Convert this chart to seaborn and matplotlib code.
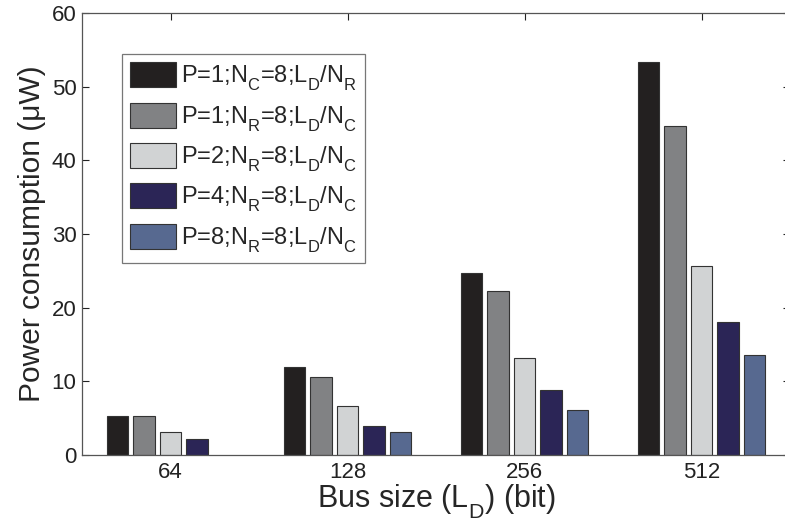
import matplotlib
matplotlib.use("Agg")
import matplotlib.pyplot as plt
import seaborn as sns
import numpy as np
import pandas as pd

# Bus sizes on the x axis
bus_sizes = ["64", "128", "256", "512"]

# Power consumption (uW) per configuration
p1_nc8_ld_nr = [5.3, 11.9, 24.7, 53.4]
p1_nr8_ld_nc = [5.3, 10.6, 22.3, 44.6]
p2_nr8_ld_nc = [3.1, 6.6, 13.1, 25.6]
p4_nr8_ld_nc = [2.2, 4.0, 8.8, 18.1]
p8_nr8_ld_nc = [np.nan, 3.1, 6.1, 13.6]

series_labels = [
    r"P=1;N$_\mathregular{C}$=8;L$_\mathregular{D}$/N$_\mathregular{R}$",
    r"P=1;N$_\mathregular{R}$=8;L$_\mathregular{D}$/N$_\mathregular{C}$",
    r"P=2;N$_\mathregular{R}$=8;L$_\mathregular{D}$/N$_\mathregular{C}$",
    r"P=4;N$_\mathregular{R}$=8;L$_\mathregular{D}$/N$_\mathregular{C}$",
    r"P=8;N$_\mathregular{R}$=8;L$_\mathregular{D}$/N$_\mathregular{C}$",
]
series_values = [p1_nc8_ld_nr, p1_nr8_ld_nc, p2_nr8_ld_nc, p4_nr8_ld_nc, p8_nr8_ld_nc]
colors = ["#231f20", "#808285", "#d1d3d4", "#251d5e", "#4e6699"]

rows = []
for lab, vals in zip(series_labels, series_values):
    for b, v in zip(bus_sizes, vals):
        rows.append({"bus": b, "config": lab, "power": v})
df = pd.DataFrame(rows)

sns.set_style("white")
plt.rcParams["font.family"] = ["Liberation Sans", "DejaVu Sans"]
plt.rcParams["mathtext.fontset"] = "custom"
plt.rcParams["mathtext.rm"] = "Liberation Sans"
plt.rcParams["mathtext.it"] = "Liberation Sans"

# Deeper subscripts, as in classic MATLAB-style labels
try:
    from matplotlib import _mathtext
    _mathtext.FontConstantsBase.sub1 = 0.65
    _mathtext.FontConstantsBase.sub2 = 0.8
except Exception:
    pass

fig = plt.figure(figsize=(7.85, 5.29), dpi=100)
ax = fig.add_axes([82 / 785, 74 / 529, 708 / 785, 442 / 529])

sns.barplot(data=df, x="bus", y="power", hue="config", order=bus_sizes,
            hue_order=series_labels, palette=colors, width=0.75, gap=0.2,
            errorbar=None, edgecolor="#333333", linewidth=0.8, ax=ax)

ax.set_xlim(-0.5, 3.5)
ax.set_ylim(0, 60)
ax.set_yticks(range(0, 61, 10))
ax.tick_params(axis="both", direction="in", labelsize=16, colors="#222222",
               length=5, width=0.8)
ax.tick_params(axis="x", top=True, bottom=True, length=5, pad=5)
ax.tick_params(axis="y", right=True, left=True, pad=4)
for s in ax.spines.values():
    s.set_visible(True)
    s.set_color("#555555")
    s.set_linewidth(0.9)

ax.set_xlabel(r"Bus size (L$_\mathregular{D}$) (bit)", fontsize=22, labelpad=0)
ax.set_ylabel("Power consumption (\u03bcW)", fontsize=21.5, labelpad=4)

leg = ax.legend(loc="upper left", bbox_to_anchor=(0.0565, 0.907), fontsize=17,
                frameon=True, fancybox=False, edgecolor="#555555",
                handlelength=1.95, handleheight=1.25, labelspacing=0.4,
                handletextpad=0.2, borderpad=0.35, borderaxespad=0)
leg.get_frame().set_linewidth(0.9)

fig.savefig("out.png", dpi=100, facecolor="white")
